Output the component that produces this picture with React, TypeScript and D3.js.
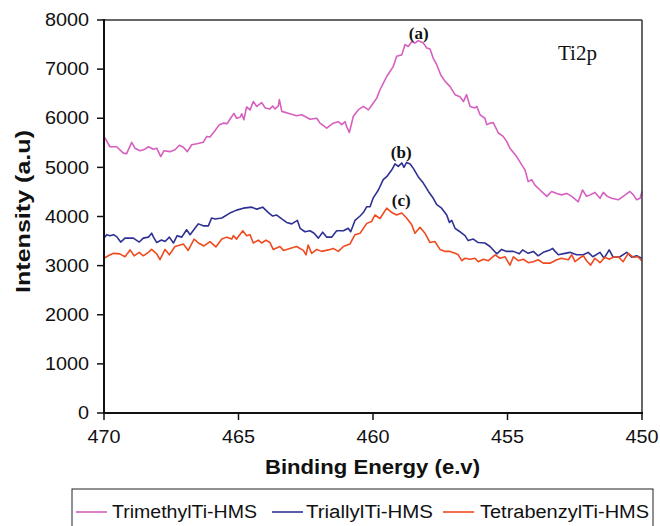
import React from "react";
import * as d3 from "d3";

const xTicks = [470, 465, 460, 455, 450];
const yTicks = [0, 1000, 2000, 3000, 4000, 5000, 6000, 7000, 8000];
const seriesNames = ["TrimethylTi-HMS", "TriallylTi-HMS", "TetrabenzylTi-HMS"];
const seriesColors = ["#d65fbf", "#2e3193", "#f04a1f"];
const peakLabels = ["(a)", "(b)", "(c)"];

const trimethyl: [number, number][] = [[470.00,5630],[469.78,5420],[469.53,5420],[469.28,5290],[469.16,5280],[468.97,5510],[468.85,5390],[468.66,5340],[468.48,5370],[468.35,5420],[468.17,5370],[468.04,5390],[467.89,5220],[467.77,5340],[467.55,5320],[467.36,5360],[467.20,5450],[467.05,5410],[466.90,5320],[466.74,5460],[466.55,5480],[466.31,5510],[466.18,5630],[466.06,5620],[465.87,5750],[465.71,5870],[465.57,5900],[465.42,5890],[465.32,5980],[465.17,6100],[465.07,6000],[464.94,6020],[464.88,6090],[464.80,5970],[464.70,6230],[464.57,6170],[464.45,6340],[464.32,6240],[464.14,6320],[464.01,6210],[463.83,6190],[463.73,6250],[463.64,6190],[463.52,6250],[463.48,6380],[463.39,6140],[463.09,6090],[462.84,6050],[462.65,6070],[462.34,5980],[462.09,6000],[461.97,5900],[461.72,5800],[461.48,5900],[461.29,5930],[461.16,5870],[461.04,5930],[460.98,5830],[460.88,5710],[460.73,6040],[460.55,6170],[460.36,6240],[460.17,6170],[459.99,6310],[459.86,6410],[459.74,6580],[459.62,6710],[459.49,6850],[459.25,7050],[459.12,7260],[458.93,7290],[458.81,7500],[458.69,7460],[458.56,7560],[458.44,7530],[458.32,7580],[458.13,7530],[458.00,7430],[457.88,7410],[457.76,7220],[457.63,7090],[457.48,6880],[457.32,6750],[457.14,6650],[456.95,6480],[456.77,6440],[456.64,6340],[456.52,6480],[456.39,6240],[456.21,6210],[456.14,6240],[456.02,6070],[455.84,6000],[455.77,5870],[455.65,5900],[455.53,5910],[455.34,5700],[455.16,5630],[455.03,5530],[454.91,5390],[454.66,5220],[454.47,5050],[454.35,4950],[454.23,4710],[454.10,4750],[453.98,4640],[453.79,4540],[453.54,4410],[453.36,4510],[453.17,4470],[452.99,4440],[452.80,4470],[452.61,4410],[452.37,4300],[452.21,4540],[452.06,4410],[451.93,4440],[451.75,4490],[451.56,4370],[451.44,4490],[451.29,4410],[451.13,4370],[450.88,4340],[450.70,4410],[450.45,4510],[450.32,4440],[450.20,4340],[450.07,4370],[450.00,4510]];

const triallyl: [number, number][] = [[470.00,3560],[469.90,3630],[469.78,3610],[469.65,3630],[469.53,3590],[469.38,3480],[469.22,3560],[468.91,3560],[468.69,3480],[468.54,3560],[468.35,3580],[468.23,3660],[468.17,3590],[468.04,3470],[467.86,3520],[467.73,3490],[467.57,3580],[467.42,3460],[467.28,3610],[467.11,3580],[466.93,3730],[466.80,3630],[466.62,3760],[466.49,3850],[466.31,3810],[466.12,3810],[466.00,3970],[465.87,3950],[465.62,3970],[465.32,4070],[465.07,4130],[464.82,4170],[464.51,4190],[464.32,4150],[464.10,4190],[463.89,4080],[463.73,4010],[463.58,4030],[463.39,3950],[463.21,3880],[463.02,3850],[462.81,3920],[462.71,3760],[462.53,3690],[462.34,3710],[462.19,3660],[462.03,3560],[461.87,3680],[461.72,3580],[461.54,3580],[461.35,3710],[461.10,3710],[460.92,3760],[460.83,3690],[460.67,3920],[460.48,4010],[460.36,4080],[460.23,4200],[460.11,4200],[459.99,4380],[459.80,4540],[459.62,4750],[459.49,4810],[459.30,4950],[459.18,5070],[459.06,5020],[458.93,5090],[458.85,5000],[458.75,5100],[458.62,5070],[458.50,4980],[458.32,4810],[458.13,4680],[457.94,4510],[457.76,4370],[457.63,4240],[457.45,4170],[457.26,4030],[457.16,3880],[457.07,3920],[456.95,3760],[456.77,3690],[456.58,3610],[456.46,3510],[456.27,3540],[456.09,3470],[455.84,3460],[455.65,3390],[455.40,3240],[455.22,3330],[455.03,3290],[454.78,3290],[454.56,3240],[454.44,3320],[454.23,3250],[454.04,3290],[453.86,3200],[453.67,3270],[453.42,3320],[453.32,3350],[453.23,3290],[453.11,3220],[452.86,3250],[452.68,3270],[452.43,3220],[452.18,3220],[452.00,3270],[451.83,3180],[451.56,3270],[451.41,3150],[451.22,3320],[451.07,3170],[450.82,3180],[450.57,3270],[450.38,3170],[450.20,3200],[450.01,3150]];

const tetrabenzyl: [number, number][] = [[470.00,3150],[469.84,3200],[469.65,3250],[469.41,3240],[469.22,3180],[469.03,3320],[468.88,3200],[468.69,3270],[468.54,3200],[468.35,3270],[468.23,3330],[468.04,3240],[467.92,3120],[467.73,3330],[467.57,3220],[467.36,3390],[467.17,3420],[467.05,3440],[466.87,3310],[466.65,3540],[466.49,3460],[466.28,3400],[466.06,3490],[465.84,3380],[465.62,3540],[465.44,3580],[465.25,3540],[465.19,3610],[465.07,3540],[464.84,3710],[464.70,3610],[464.57,3630],[464.45,3460],[464.26,3520],[464.14,3460],[463.98,3520],[463.83,3470],[463.71,3330],[463.46,3390],[463.33,3310],[463.09,3350],[462.84,3390],[462.59,3310],[462.49,3220],[462.41,3420],[462.28,3250],[462.09,3330],[461.91,3290],[461.66,3320],[461.48,3350],[461.29,3290],[461.10,3390],[460.86,3440],[460.67,3630],[460.48,3660],[460.23,3860],[460.05,3900],[459.93,4030],[459.74,3960],[459.49,4170],[459.30,4080],[459.12,4030],[458.93,4070],[458.75,3970],[458.56,3830],[458.44,3660],[458.25,3780],[458.07,3660],[457.88,3470],[457.70,3490],[457.51,3330],[457.32,3290],[457.14,3290],[456.95,3250],[456.83,3220],[456.70,3100],[456.58,3150],[456.39,3130],[456.21,3150],[456.09,3080],[455.90,3130],[455.71,3100],[455.46,3220],[455.28,3150],[455.09,3180],[454.91,3010],[454.78,3180],[454.60,3100],[454.41,3130],[454.23,3060],[454.04,3080],[453.86,3120],[453.67,3050],[453.42,3050],[453.17,3120],[452.99,3150],[452.74,3120],[452.61,3220],[452.49,3080],[452.33,3150],[452.18,3200],[452.06,3100],[451.91,3010],[451.75,3150],[451.56,3060],[451.38,3170],[451.22,3130],[451.07,3170],[450.88,3180],[450.70,3080],[450.51,3250],[450.32,3170],[450.15,3180],[450.01,3100]];

const series = [trimethyl, triallyl, tetrabenzyl];
// label anchor points: [energy, intensity]
const peakLabelPos: [number, number][] = [[458.3, 7620], [458.95, 5200], [458.95, 4210]];

const W = 660, H = 526;
const left = 104, right = 642, top = 20, bottom = 413;

const sans = "'Liberation Sans', Arial, sans-serif";
const serif = "'Liberation Serif', 'Times New Roman', serif";

export default function App() {
  const x = d3.scaleLinear().domain([470, 450]).range([left, right]);
  const y = d3.scaleLinear().domain([0, 8000]).range([bottom, top]);
  const line = d3.line<[number, number]>().x(d => x(d[0])).y(d => y(d[1])).curve(d3.curveLinear);

  const legendItems = [
    { lx: 76, tx: 112, tw: 145 },
    { lx: 272, tx: 306, tw: 127 },
    { lx: 443, tx: 480, tw: 169 },
  ];

  return (
    <svg width={W} height={H} style={{ position: "absolute", left: 0, top: 0, background: "#fff" }}>
      <rect x={0} y={0} width={W} height={H} fill="#fff" />
      {series.map((s, i) => (
        <path key={i} d={line(s) || ""} fill="none" stroke={seriesColors[i]} strokeWidth={1.6} strokeLinejoin="round" />
      ))}
      {/* frame */}
      <line x1={left} y1={top} x2={right} y2={top} stroke="#333" strokeWidth={1.5} />
      <line x1={right} y1={top} x2={right} y2={bottom} stroke="#333" strokeWidth={1.5} />
      <line x1={left} y1={top - 1} x2={left} y2={bottom + 1} stroke="#111" strokeWidth={2} />
      <line x1={left - 1} y1={bottom} x2={right + 1} y2={bottom} stroke="#111" strokeWidth={2} />
      {yTicks.map(t => (
        <g key={t}>
          <line x1={left - 7} x2={left} y1={y(t)} y2={y(t)} stroke="#111" strokeWidth={1.5} />
          <g transform={`translate(89,${y(t)}) scale(1.1,1)`}>
            <text textAnchor="end" dominantBaseline="central" fontFamily={sans} fontSize={18} fill="#111">{t}</text>
          </g>
        </g>
      ))}
      {xTicks.map(t => (
        <g key={t}>
          <line x1={x(t)} x2={x(t)} y1={bottom} y2={bottom + 7} stroke="#111" strokeWidth={1.5} />
          <g transform={`translate(${x(t)},437) scale(1.1,1)`}>
            <text textAnchor="middle" dominantBaseline="central" fontFamily={sans} fontSize={18} fill="#111">{t}</text>
          </g>
        </g>
      ))}
      <text x={265} y={474} fontFamily={sans} fontWeight="bold" fontSize={20} textLength={215} lengthAdjust="spacingAndGlyphs" fill="#111">Binding Energy (e.v)</text>
      <text transform="translate(30,293) rotate(-90)" fontFamily={sans} fontWeight="bold" fontSize={20} textLength={163} lengthAdjust="spacingAndGlyphs" fill="#111">Intensity (a.u)</text>
      {peakLabels.map((l, i) => (
        <text key={l} x={x(peakLabelPos[i][0])} y={y(peakLabelPos[i][1])} textAnchor="middle" fontFamily={serif} fontWeight="bold" fontSize={17} fill="#111">{l}</text>
      ))}
      <text x={558} y={60} fontFamily={serif} fontSize={21} fill="#111">Ti2p</text>
      {/* legend */}
      <rect x={72} y={489} width={581} height={60} fill="#fff" stroke="#222" strokeWidth={1} />
      {seriesNames.map((n, i) => (
        <g key={n}>
          <line x1={legendItems[i].lx} x2={legendItems[i].lx + 31} y1={512} y2={512} stroke={seriesColors[i]} strokeWidth={1.6} />
          <text x={legendItems[i].tx} y={518} fontFamily={sans} fontSize={18} textLength={legendItems[i].tw} lengthAdjust="spacingAndGlyphs" fill="#111">{n}</text>
        </g>
      ))}
    </svg>
  );
}
